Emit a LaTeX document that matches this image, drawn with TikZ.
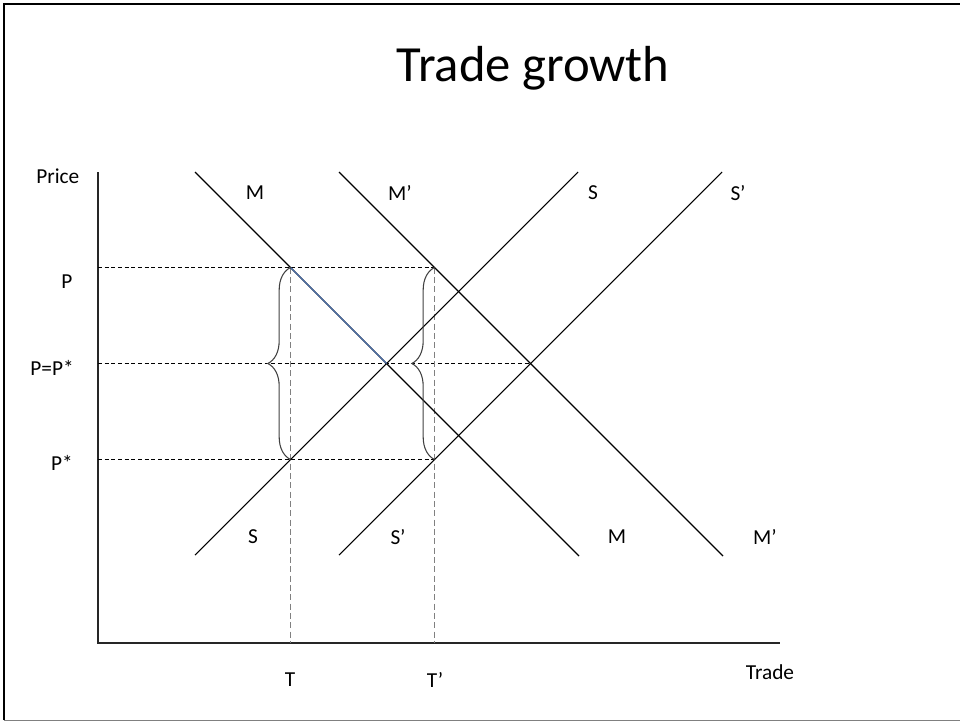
\documentclass[tikz,border=0pt]{standalone}
\usepackage{fontspec}
\setmainfont{Carlito}
\usetikzlibrary{decorations.pathreplacing}
\definecolor{tradeblue}{RGB}{74,110,168}

\begin{document}
\begin{tikzpicture}[x=0.75pt,y=-0.75pt,
  curve/.style={line width=0.8pt},
  level/.style={dash pattern=on 3pt off 2pt,line width=0.6pt},
  qty/.style={gray,dash pattern=on 4.5pt off 2.5pt,line width=0.8pt},
  lbl/.style={font=\fontsize{16}{19}\selectfont},
  gap/.style={decorate,decoration={brace,amplitude=17pt},line width=0.8pt,black!75}]
  \useasboundingbox (0,0) rectangle (960,721);
  \draw[line width=2pt] (4,720) -- (4,4) -- (962,4);
  \draw[gray,line width=0.75pt] (4,720) -- (962,720);
  \node[font=\fontsize{38}{44}\selectfont] (title) at (533,68) {Trade growth};
  % axes
  \coordinate (top) at (98,172);
  \coordinate (O) at (98,643);
  \coordinate (right) at (780,643);
  \draw[line width=1.1pt,black!85] (top) -- (O) -- (right);
  % key points
  \coordinate (A) at (290.5,267.5);
  \coordinate (B) at (290.5,459.5);
  \coordinate (C) at (434.5,267.5);
  \coordinate (D) at (434.5,459.5);
  \coordinate (E) at (386.5,363.5);
  \coordinate (F) at (530.5,363.5);
  % price and trade levels
  \draw[level] (98,267.5) -- (C);
  \draw[level] (98,363.5) -- (F);
  \draw[level] (98,459.5) -- (D);
  \draw[qty] (A) -- (290.5,643);
  \draw[qty] (C) -- (434.5,643);
  % import demand and export supply
  \draw[curve] (195,172) -- (579,556);
  \draw[curve] (339,172) -- (723,556);
  \draw[curve] (195,555) -- (578,172);
  \draw[curve] (339,555) -- (722,172);
  \draw[tradeblue,line width=1pt] (A) -- (E);
  % price wedges
  \draw[gap] (B) -- (A);
  \draw[gap] (D) -- (C);
  % labels
  \node[lbl,anchor=east] (price) at (84,176) {Price};
  \node[lbl] (p) at (67,282) {P};
  \node[lbl] (peq) at (52,368) {P=P*};
  \node[lbl] (pstar) at (62,463) {P*};
  \node[lbl] (m1) at (255,193) {M};
  \node[lbl] (m2) at (400,193) {M’};
  \node[lbl] (s1) at (593,193) {S};
  \node[lbl] (s2) at (738,193) {S’};
  \node[lbl] (s1b) at (253,537) {S};
  \node[lbl] (s2b) at (398,537) {S’};
  \node[lbl] (m1b) at (617,537) {M};
  \node[lbl] (m2b) at (765,537) {M’};
  \node[lbl] (t1) at (290,680) {T};
  \node[lbl] (t2) at (435,680) {T’};
  \node[lbl] (trade) at (770,672) {Trade};
\end{tikzpicture}
\end{document}
